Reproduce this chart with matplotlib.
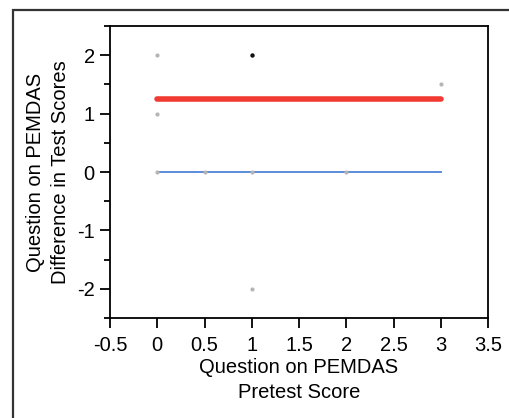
import matplotlib

matplotlib.use("Agg")
import matplotlib.pyplot as plt
from matplotlib.patches import Rectangle
from matplotlib.ticker import MultipleLocator

plt.rcParams["font.family"] = ["Liberation Sans", "DejaVu Sans"]
plt.rcParams["axes.unicode_minus"] = False

# individual responses: pretest score vs. change in score
gray_x = [0, 0, 3, 1, 0, 0.5, 1, 2]
gray_y = [2, 1, 1.5, -2, 0, 0, 0, 0]
black_x = [1]
black_y = [2]

# fitted means
fit_x = [0, 3]
red_y = [1.25, 1.25]
blue_y = [0, 0]

FS = 14.5

fig = plt.figure(figsize=(5.1, 4.18), dpi=100)
ax = fig.add_axes([110 / 510, 100 / 418, 378 / 510, 292 / 418])

# outer panel frame, running off the right and bottom edges
fig.patches.append(Rectangle((13 / 510, -0.1), 1.2, 1.1 - 10 / 418,
                             transform=fig.transFigure, fill=False,
                             edgecolor="#333333", linewidth=1.6))

ax.plot(fit_x, red_y, color="#f03a32", linewidth=4.0, solid_capstyle="round", zorder=3)
ax.plot(fit_x, blue_y, color="#5b8bdb", linewidth=1.4, zorder=2)
ax.scatter(gray_x, gray_y, s=9, color="#b5b5b5", linewidths=0, zorder=4)
ax.scatter(black_x, black_y, s=10, color="#111111", linewidths=0, zorder=5)

ax.set_xlim(-0.5, 3.5)
ax.set_ylim(-2.5, 2.5)
ax.set_xticks([-0.5, 0, 0.5, 1, 1.5, 2, 2.5, 3, 3.5])
ax.set_xticklabels(["-0.5", "0", "0.5", "1", "1.5", "2", "2.5", "3", "3.5"])
ax.set_yticks([-2, -1, 0, 1, 2])
ax.yaxis.set_minor_locator(MultipleLocator(0.5))

for side in ax.spines.values():
    side.set_linewidth(1.3)
ax.tick_params(which="major", direction="out", length=7, width=1.3, labelsize=FS)
ax.tick_params(which="minor", direction="out", length=4, width=1.3)
ax.tick_params(axis="x", which="major", pad=6)
ax.tick_params(axis="y", which="major", pad=4)

ax.set_xlabel("Question on PEMDAS\nPretest Score", fontsize=FS, linespacing=1.4, labelpad=2)
ax.set_ylabel("Question on PEMDAS\nDifference in Test Scores", fontsize=FS,
              linespacing=1.4, labelpad=5)

fig.savefig("out.png", dpi=100, facecolor="white")
